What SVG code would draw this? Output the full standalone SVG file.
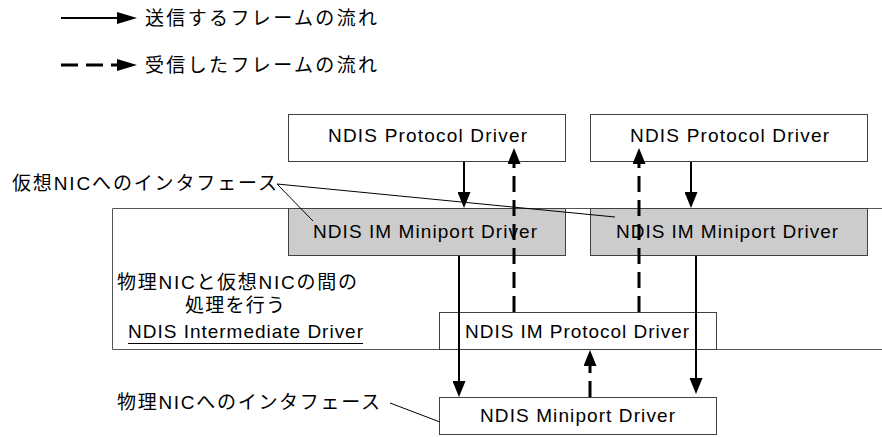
<svg xmlns="http://www.w3.org/2000/svg" width="882" height="437" viewBox="0 0 882 437">
<style>
text{font-family:"Liberation Sans","Noto Sans CJK JP",Arial,sans-serif;font-size:19px;fill:#000}
.box{fill:#fff;stroke:#404040;stroke-width:1}
.gray{fill:#cccccc;stroke:#404040;stroke-width:1}
.frame{fill:none;stroke:#555;stroke-width:1}
.solid{fill:none;stroke:#000;stroke-width:2}
.dash{fill:none;stroke:#000;stroke-width:3;stroke-dasharray:16 8}
.thin{fill:none;stroke:#000;stroke-width:1}
</style>
<defs>
<marker id="ah" markerUnits="userSpaceOnUse" markerWidth="16" markerHeight="13" refX="0" refY="6.5" orient="auto">
<path d="M0,0 L16,6.5 L0,13 z" fill="#000"/>
</marker>
<marker id="ahl" markerUnits="userSpaceOnUse" markerWidth="20" markerHeight="12" refX="0" refY="6" orient="auto">
<path d="M0,0 L20,6 L0,12 z" fill="#000"/>
</marker>
</defs>
<rect width="882" height="437" fill="#fff"/>

<g id="legend">
<line class="solid" x1="61" y1="18" x2="117" y2="18" marker-end="url(#ahl)"/>
<text x="145" y="24.5" textLength="232" lengthAdjust="spacing">送信するフレームの流れ</text>
<path d="M61,65 H117" fill="none" stroke="#000" stroke-width="3" stroke-dasharray="17 8" marker-end="url(#ahl)"/>
<text x="145" y="71.5" textLength="232" lengthAdjust="spacing">受信したフレームの流れ</text>
</g>

<g id="intermediate-driver">
<path class="frame" d="M882,208.5 H112.5 V349.5 H882"/>
<text x="117" y="288.5" textLength="240" lengthAdjust="spacing">物理NICと仮想NICの間の</text>
<text x="185" y="311.5" textLength="100" lengthAdjust="spacing">処理を行う</text>
<text x="128" y="338" textLength="235" lengthAdjust="spacing">NDIS Intermediate Driver</text>
<line x1="128" y1="343.5" x2="363" y2="343.5" stroke="#000" stroke-width="1"/>
</g>

<g id="protocol-left">
<rect class="box" x="288.5" y="114.5" width="277" height="47"/>
<text x="328" y="142" textLength="199" lengthAdjust="spacing">NDIS Protocol Driver</text>
</g>
<g id="protocol-right">
<rect class="box" x="590.5" y="114.5" width="277" height="47"/>
<text x="630" y="142" textLength="199" lengthAdjust="spacing">NDIS Protocol Driver</text>
</g>
<g id="im-miniport-left">
<rect class="gray" x="288.5" y="208.5" width="277" height="47"/>
<text x="313" y="238" textLength="224" lengthAdjust="spacing">NDIS IM Miniport Driver</text>
</g>
<g id="im-miniport-right">
<rect class="gray" x="590.5" y="208.5" width="277" height="47"/>
<text x="616" y="238" textLength="222" lengthAdjust="spacing">NDIS IM Miniport Driver</text>
</g>
<g id="im-protocol">
<rect class="box" x="439.5" y="312.5" width="277" height="37"/>
<text x="465" y="338" textLength="224" lengthAdjust="spacing">NDIS IM Protocol Driver</text>
</g>
<g id="miniport">
<rect class="box" x="439.5" y="397.5" width="277" height="37"/>
<text x="480" y="422" textLength="195" lengthAdjust="spacing">NDIS Miniport Driver</text>
</g>

<g id="label-virtual">
<text x="12" y="190" textLength="265" lengthAdjust="spacing">仮想NICへのインタフェース</text>
</g>
<g id="label-physical">
<text x="117" y="409" textLength="263" lengthAdjust="spacing">物理NICへのインタフェース</text>
</g>

<g id="connectors">
<line class="thin" x1="277" y1="184" x2="313" y2="221"/>
<line class="thin" x1="277" y1="184" x2="615" y2="217"/>
<line class="thin" x1="390" y1="403" x2="440" y2="422"/>
<line class="solid" x1="464" y1="162" x2="464" y2="192" marker-end="url(#ah)"/>
<line class="solid" x1="691" y1="162" x2="691" y2="192" marker-end="url(#ah)"/>
<line class="dash" x1="514" y1="312" x2="514" y2="164" marker-end="url(#ah)"/>
<line class="dash" x1="639" y1="312" x2="639" y2="164" marker-end="url(#ah)"/>
<line class="solid" x1="459" y1="256" x2="459" y2="381" marker-end="url(#ah)"/>
<line class="solid" x1="696" y1="256" x2="696" y2="378" marker-end="url(#ah)"/>
<line class="dash" x1="590" y1="397" x2="590" y2="366" marker-end="url(#ah)"/>
</g>
</svg>
